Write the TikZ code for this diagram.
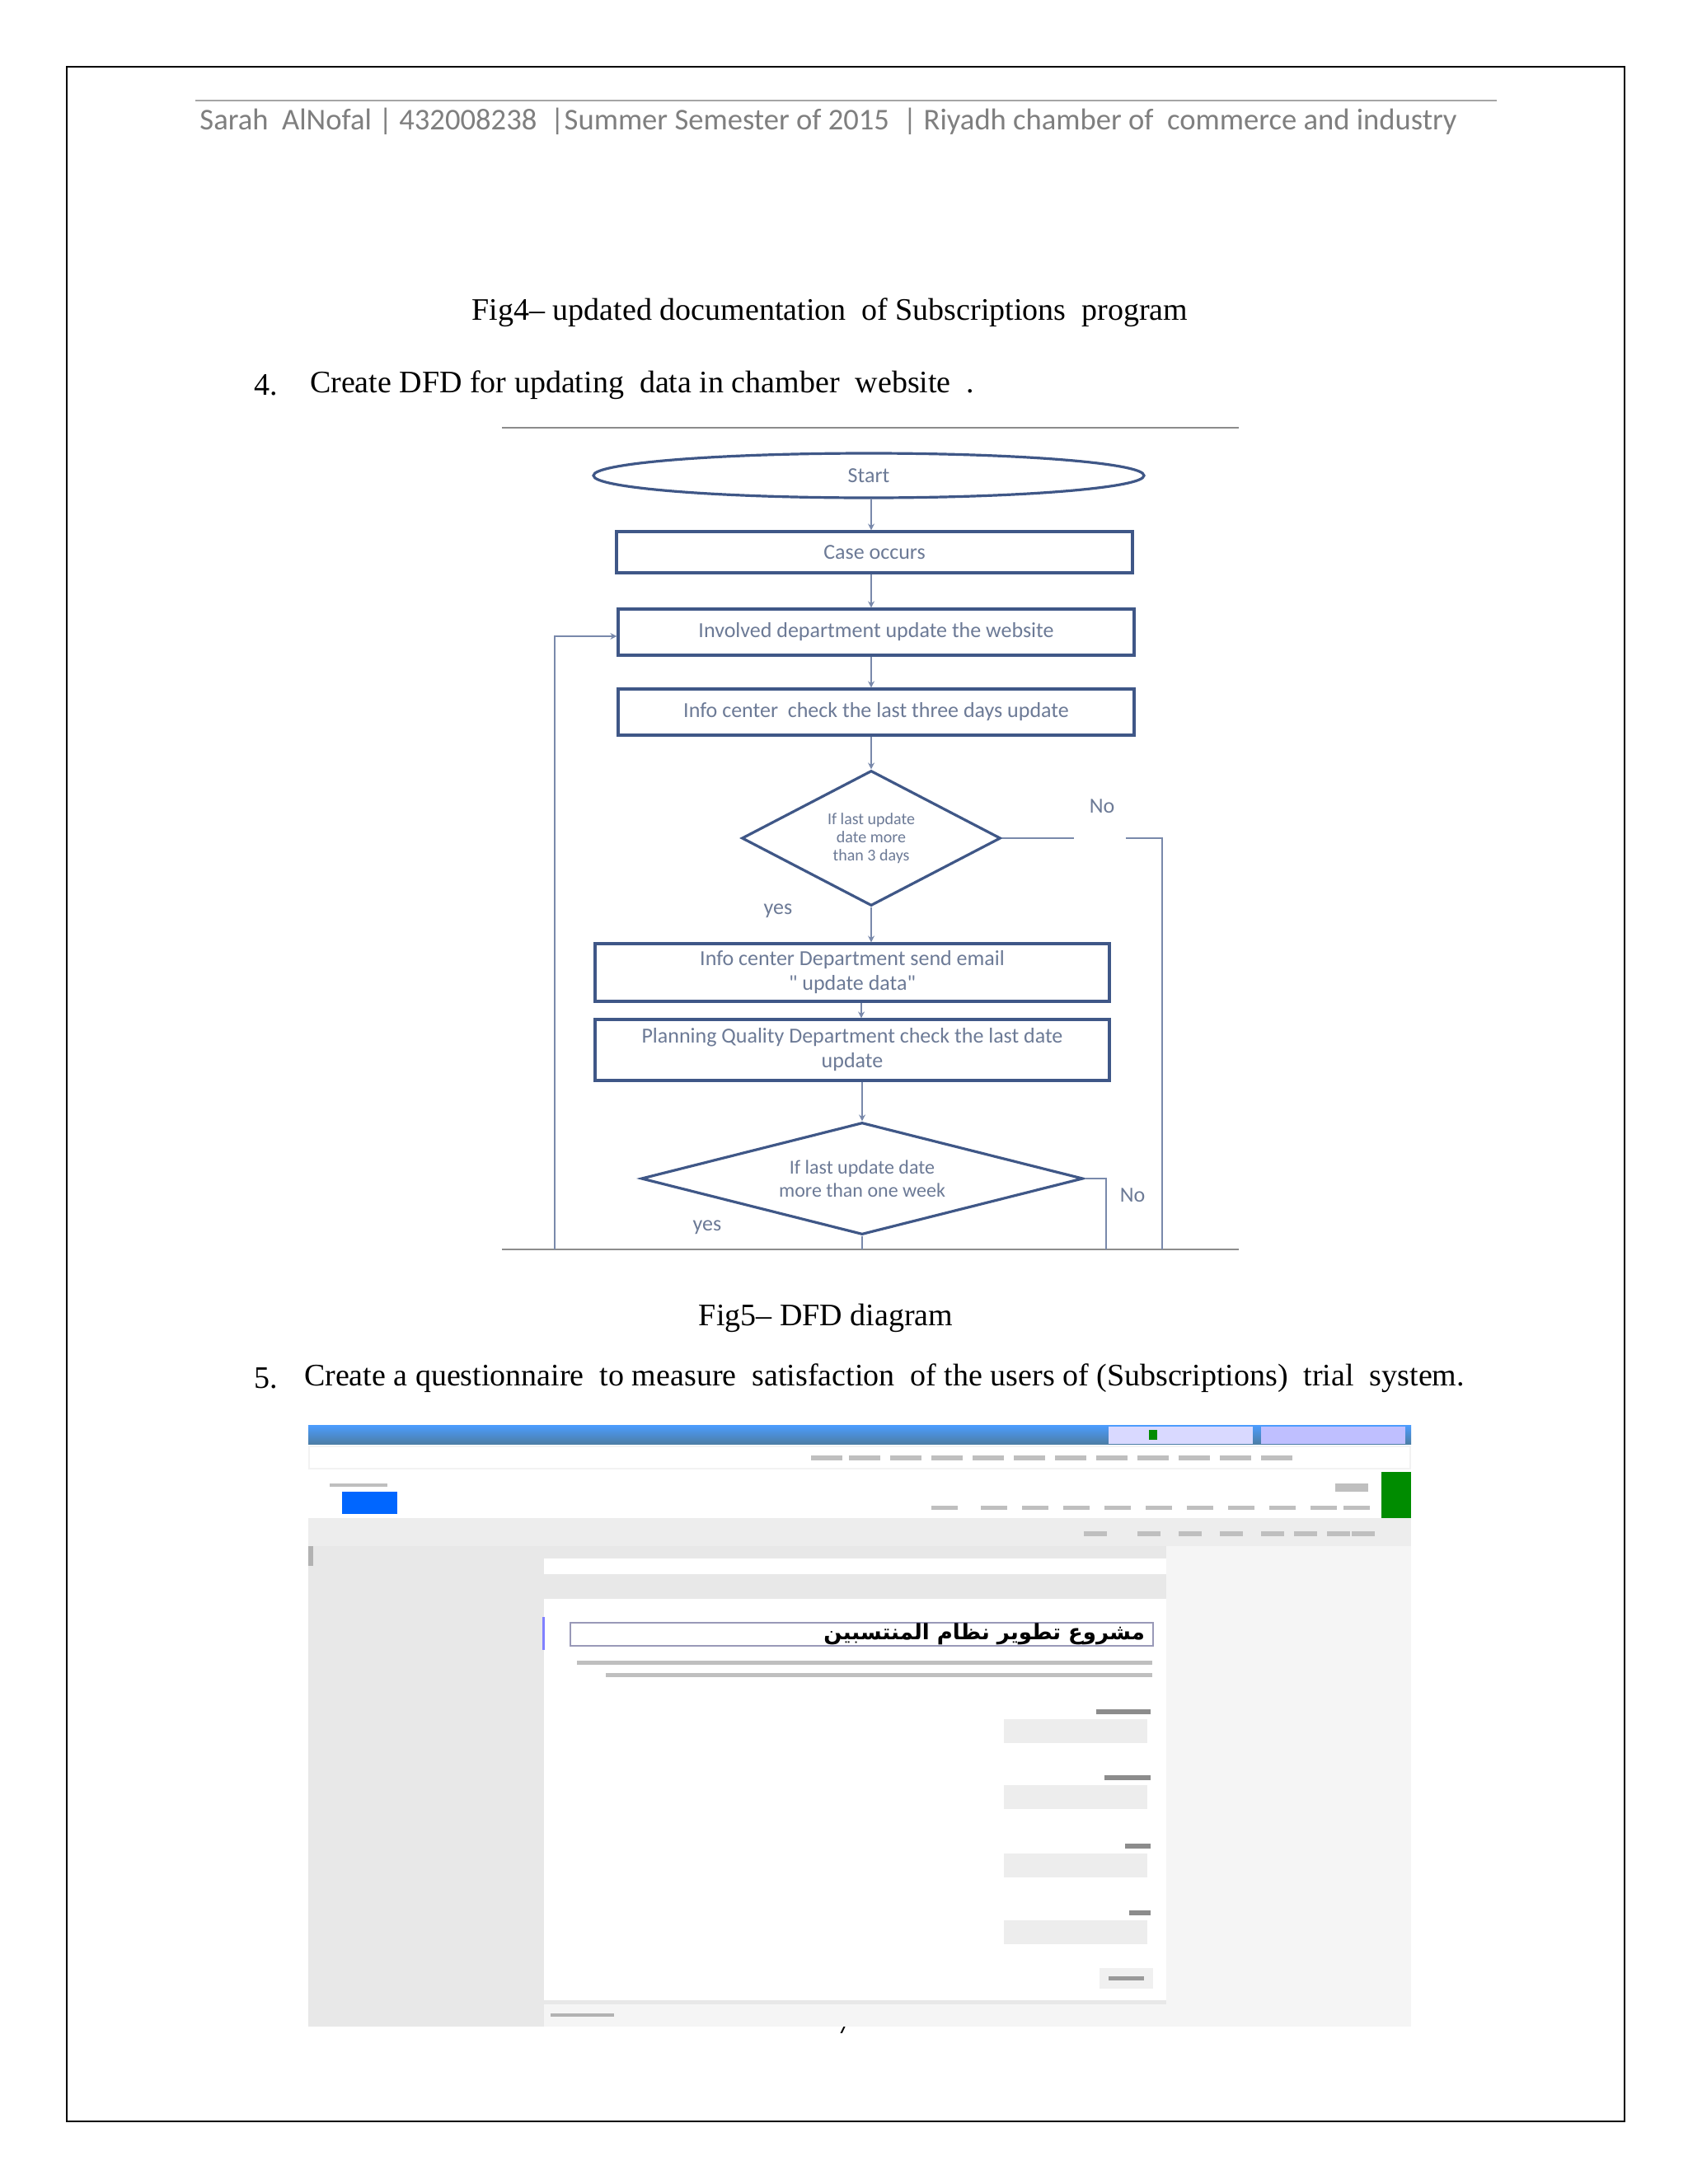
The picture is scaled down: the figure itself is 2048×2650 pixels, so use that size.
\documentclass[tikz,border=0pt]{standalone}
\usepackage{fontspec}
\setmainfont{Liberation Serif}
\newfontfamily\carl{Carlito}
\newfontfamily\arabicfont[Script=Arabic]{DejaVu Sans}
\TeXXeTstate=1
\usetikzlibrary{shapes.geometric,arrows.meta}
\definecolor{fc}{HTML}{3F5787}
\definecolor{ft}{HTML}{6C7A96}
\definecolor{hd}{HTML}{7F7F7F}
\begin{document}
\begin{tikzpicture}[x=0.5pt,y=-0.5pt,
  fbox/.style={draw=fc,line width=1.6pt,rectangle,inner sep=0,font=\carl\fontsize{13}{14}\selectfont,text=ft,align=center},
  fline/.style={draw=fc!70,line width=0.8pt},
  farr/.style={fline,-{Stealth[length=4pt,width=4pt]}},
  flbl/.style={font=\carl\fontsize{13}{14}\selectfont,text=ft},
  body/.style={font=\fontsize{19}{22}\selectfont,anchor=west}]
\useasboundingbox (0,0) rectangle (2048,2650);
\fill[white] (0,0) rectangle (2048,2650);
\draw[line width=1.2pt] (81,81) rectangle (1971,2574);
% header
\draw[hd!70,line width=0.8pt] (237,122) -- (1816,122);
\node[font=\carl\fontsize{18.3}{20}\selectfont,text=hd] (hdr) at (1005,147) {Sarah\ \ AlNofal | 432008238\ \ |Summer Semester of 2015\ \ | Riyadh chamber of\ \ commerce and industry};
\node[font=\fontsize{19}{22}\selectfont] (fig4) at (1007,379) {Fig4– updated documentation\ \ of Subscriptions\ \ program};
\node[body] (n4) at (301,467) {4.};
\node[body] (t4) at (369,467) {Create DFD for updating\ \ data in chamber\ \ website\ \ .};
% flowchart frame lines
\draw[black!45,line width=1pt] (609,519) -- (1503,519);
\draw[black!45,line width=1pt] (609,1516) -- (1503,1516);
% nodes
\node[fbox,ellipse,minimum width=334pt,minimum height=27pt] (start) at (1054,577) {Start};
\node[fbox,minimum width=313pt,minimum height=25pt] (case) at (1061,670) {Case occurs};
\node[fbox,minimum width=313pt,minimum height=28pt] (inv) at (1063,767) {Involved department update the website};
\node[fbox,minimum width=313pt,minimum height=28pt] (info) at (1063,864) {Info center\ \ check the last three days update};
\node[fbox,diamond,aspect=1.92,minimum width=157pt,minimum height=82pt,font=\carl\fontsize{10}{11}\selectfont] (d1) at (1057,1017) {If last update\\date more\\than 3 days};
\node[fbox,minimum width=312pt,minimum height=35pt,font=\carl\fontsize{13}{15}\selectfont] (mail) at (1034,1180) {Info center Department send email\\" update data"};
\node[fbox,minimum width=312pt,minimum height=37pt,font=\carl\fontsize{13}{15}\selectfont] (plan) at (1034,1274) {Planning Quality Department check the last date\\update};
\node[fbox,diamond,aspect=3.9,minimum width=268pt,minimum height=68pt,font=\carl\fontsize{12}{14}\selectfont] (d2) at (1046,1430) {If last update date\\more than one week};
\node[flbl] (no1) at (1337,978) {No};
\node[flbl] (yes1) at (944,1105) {yes};
\node[flbl] (no2) at (1374,1450) {No};
\node[flbl] (yes2) at (858,1489) {yes};
\coordinate (n1a) at (1303,1017); \coordinate (n1b) at (1366,1017);
\coordinate (n1c) at (1410,1017); \coordinate (n1d) at (1410,1516);
\coordinate (n2a) at (1342,1430); \coordinate (n2b) at (1342,1516);
\coordinate (ysb) at (1046,1516);
\coordinate (la) at (673,1516); \coordinate (lb) at (673,772);
% connectors
\draw[farr] (1057,0 |- start.south) -- (1057,0 |- case.north);
\draw[farr] (1057,0 |- case.south) -- (1057,0 |- inv.north);
\draw[farr] (1057,0 |- inv.south) -- (1057,0 |- info.north);
\draw[farr] (1057,0 |- info.south) -- (d1.north);
\draw[farr] (d1.south) -- (d1 |- mail.north);
\draw[farr] (1045,0 |- mail.south) -- (1045,0 |- plan.north);
\draw[farr] (1046,0 |- plan.south) -- (d2.north);
\draw[fline] (d1.east) -- (n1a);
\draw[fline] (n1b) -- (n1c) -- (n1d);
\draw[fline] (d2.east) -- (n2a) -- (n2b);
\draw[fline] (d2.south) -- (ysb);
\draw[farr] (la) -- (lb) -- (lb -| inv.west);
\node[font=\fontsize{19}{22}\selectfont] (fig5) at (1002,1599) {Fig5– DFD diagram};
\node[body] (n5) at (301,1672) {5.};
\node[body] (t5) at (362,1672) {Create a questionnaire\ \ to measure\ \ satisfaction\ \ of the users of (Subscriptions)\ \ trial\ \ system.};
\node[font=\fontsize{19}{22}\selectfont] (pg) at (1025,2455) {7};
% screenshot
\fill[black!9] (374,1729) rectangle (1712,2459);
\fill[black!4] (1415,1876) rectangle (1712,2459);
\fill[white] (374,1752) rectangle (1712,1842);
\fill[black!5] (374,1754) rectangle (1712,1783);
\fill[white] (376,1756) rectangle (1710,1781);
\shade[top color=blue!55!cyan!70,bottom color=blue!45!cyan!50!black!70] (374,1729) rectangle (1712,1752);
\fill[white!85!blue] (1345,1731) rectangle (1520,1752);
\fill[white!75!blue] (1530,1731) rectangle (1705,1752);
\fill[green!55!black] (1394,1735) rectangle (1404,1747);
\fill[green!55!black] (1676,1786) rectangle (1712,1842);
\fill[blue!60!cyan] (415,1810) rectangle (482,1837);
\fill[black!7] (374,1842) rectangle (1712,1876);
\fill[black!30] (374,1876) rectangle (380,1900);
\foreach \xx in {984,1030,1080,1130,1180,1230,1280,1330,1380,1430,1480,1530} \fill[black!25] (\xx,1766) rectangle (\xx+38,1772);
\foreach \xx in {1130,1190,1240,1290,1340,1390,1440,1490,1540,1590,1630} \fill[black!25] (\xx,1827) rectangle (\xx+32,1832);
\foreach \xx in {1315,1380,1430,1480,1530,1570,1610,1640} \fill[black!25] (\xx,1858) rectangle (\xx+28,1864);
\fill[black!25] (1620,1800) rectangle (1660,1810);
\fill[black!25] (400,1800) rectangle (470,1804);
% form
\fill[white] (660,1891) rectangle (1415,1910);
\fill[white] (660,1940) rectangle (1415,2427);
\fill[black!4] (660,2432) rectangle (1415,2459);
\fill[blue!50] (658,1962) rectangle (661,2002);
\draw[blue!30!black!40,line width=1pt] (692,1969) rectangle (1399,1997);
\node[anchor=east,font=\arabicfont\bfseries\fontsize{13}{14}\selectfont] (tt) at (1396,1983) {\beginR مشروع تطوير نظام المنتسبين\endR};
\fill[black!25] (700,2015) rectangle (1398,2020);
\fill[black!25] (735,2030) rectangle (1398,2035);
\foreach \yy/\w in {2086/1330,2166/1340,2249/1365,2330/1370} {
  \fill[black!45] (\w,\yy-12) rectangle (1396,\yy-6);
  \fill[black!7] (1218,\yy) rectangle (1392,\yy+29);
}
\fill[black!6] (1334,2388) rectangle (1399,2413);
\fill[black!40] (1345,2398) rectangle (1388,2403);
\fill[black!30] (668,2443) rectangle (745,2447);
\end{tikzpicture}
\end{document}
